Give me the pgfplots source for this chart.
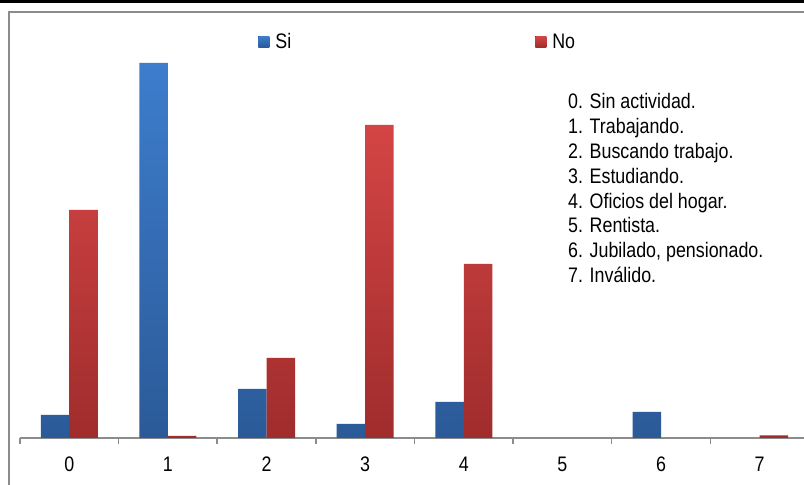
\documentclass[border=0pt]{standalone}
\usepackage{pgfplots}
\pgfplotsset{compat=1.18}
\usepackage{fontspec}
\setmainfont{Liberation Sans}[FakeStretch=0.85]
\definecolor{bluetop}{HTML}{3D7DCD}
\definecolor{bluebot}{HTML}{2B5A98}
\definecolor{redtop}{HTML}{D44545}
\definecolor{redbot}{HTML}{A02C2C}
\definecolor{framegray}{HTML}{8C8C8C}
\begin{document}
\begin{tikzpicture}[x=1pt,y=1pt]
\clip (0,0) rectangle (804,485);
\fill[white] (0,0) rectangle (804,485);
\fill[black] (0,482) rectangle (804,485);
\draw[framegray, line width=2pt] (8.5,0) -- (8.5,472.5) -- (804,472.5);
\begin{axis}[
  at={(20pt,47pt)}, anchor=south west,
  scale only axis, width=789pt, height=425pt,
  xmin=-0.5, xmax=7.5, ymin=0, ymax=425,
  axis x line=bottom, axis y line=none,
  x axis line style={-, framegray, line width=1.5pt},
  ybar=0pt, bar width=28.5pt,
  xtick={0,...,7},
  minor xtick={-0.5,0.5,...,7.5},
  xtick align=outside,
  major tick length=0pt, minor tick length=6pt,
  every minor tick/.style={framegray, line width=1.5pt},
  /pgf/number format/assume math mode=true,
  xticklabel style={anchor=base, yshift=-34pt, font=\fontsize{21}{25}\selectfont},
  legend columns=2,
  legend style={at={(0.302,0.932)}, anchor=west, draw=none, fill=none,
    font=\fontsize{21}{25}\selectfont, inner sep=0pt,
    /tikz/every odd column/.append style={column sep=4pt},
    /tikz/every even column/.append style={column sep=242pt}},
  legend image code/.code={\fill[#1] (0pt,-5.5pt) rectangle (11pt,5.5pt);},
  clip=false,
]
\addplot[draw=none, top color=bluetop, bottom color=bluebot]
  coordinates {(0,23) (1,375) (2,49) (3,14) (4,36) (6,26)};
\addplot[draw=none, top color=redtop, bottom color=redbot]
  coordinates {(0,228) (1,2) (2,80) (3,313) (4,174) (7,2.5)};
\legend{Si,No}
\end{axis}
\node[anchor=north west, align=left, inner sep=0pt, font=\fontsize{21}{24.9}\selectfont] at (568,392)
{0. Sin actividad.\\1. Trabajando.\\2. Buscando trabajo.\\3. Estudiando.\\4. Oficios del hogar.\\5. Rentista.\\6. Jubilado, pensionado.\\7. Inválido.};
\end{tikzpicture}
\end{document}
